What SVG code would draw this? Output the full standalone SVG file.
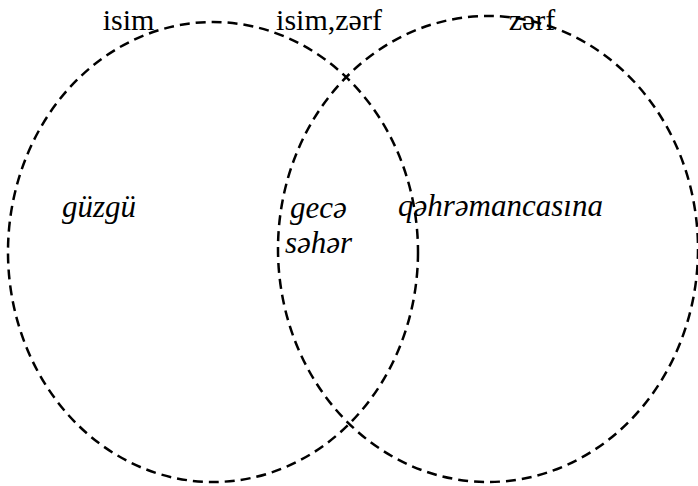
<svg xmlns="http://www.w3.org/2000/svg" width="698" height="486" viewBox="0 0 698 486">
<style>
.set{fill:none;stroke:#000;stroke-width:2.5;stroke-dasharray:10 6}
.lbl{font-family:'Liberation Serif',serif;font-size:30px;fill:#000}
.item{font-family:'Liberation Serif',serif;font-style:italic;font-size:31px;fill:#000}
</style>
<rect width="698" height="486" fill="#fff"/>
<g id="set-isim">
<ellipse class="set" cx="213" cy="252" rx="205" ry="230"/>
<text class="item" x="62" y="217">güzgü</text>
</g>
<g id="set-zerf">
<ellipse class="set" cx="488" cy="249" rx="210" ry="233"/>
<text class="item" x="398" y="216">qəhrəmancasına</text>
</g>
<g id="intersection">
<text class="item" x="290" y="218">gecə</text>
<text class="item" x="285" y="253">səhər</text>
</g>
<g id="labels">
<text class="lbl" x="128.5" y="30" text-anchor="middle">isim</text>
<text class="lbl" x="329" y="30" text-anchor="middle">isim,zərf</text>
<text class="lbl" x="532" y="30" text-anchor="middle">zərf</text>
</g>
</svg>
